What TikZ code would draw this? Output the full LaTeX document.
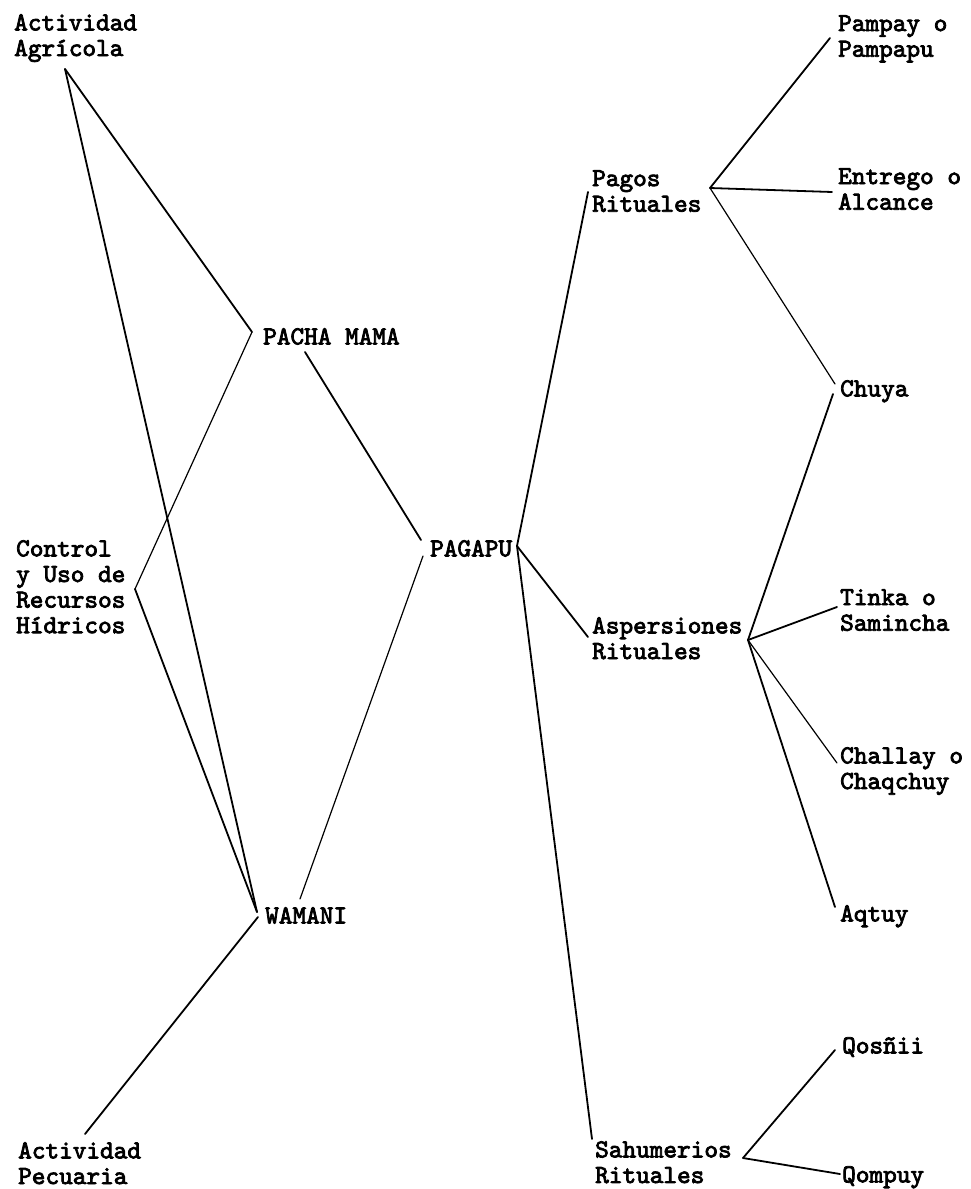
\documentclass[tikz,border=0pt]{standalone}
\usepackage{fontspec}
\usepackage{tikz}
\usetikzlibrary{positioning}
\newfontfamily\termfont{lmmono10-regular.otf}[FakeBold=3]

\begin{document}
\begin{tikzpicture}[
      x=1pt, y=-1pt,
      font=\fontsize{26}{25.6}\selectfont\termfont,
      term/.style={anchor=north west, inner sep=0pt, align=left},
      link/.style={line width=1.8pt, line cap=round},
      faint/.style={link, line width=1.2pt},
    ]
    \useasboundingbox (0,0) rectangle (970,1189);
    % left column
    \node[term] (agr) at (14,14) {Actividad\\Agrícola};
    \node[term] (ctrl) at (16,540) {Control\\y Uso de\\Recursos\\Hídricos};
    \node[term] (pec) at (18,1142) {Actividad\\Pecuaria};
    % deities and centre
    \node[term] (pm) at (263,328) {PACHA MAMA};
    \node[term] (wam) at (265,907) {WAMANI};
    \node[term] (pag) at (430,540) {PAGAPU};
    % rituals
    \node[term] (pagos) at (592,170) {Pagos\\Rituales};
    \node[term] (asp) at (592,617) {Aspersiones\\Rituales};
    \node[term] (sah) at (595,1141) {Sahumerios\\Rituales};
    % forms
    \node[term] (pam) at (838,15) {Pampay o\\Pampapu};
    \node[term] (ent) at (838,168) {Entrego o\\Alcance};
    \node[term] (chu) at (840,380) {Chuya};
    \node[term] (tin) at (840,589) {Tinka o\\Samincha};
    \node[term] (cha) at (840,747) {Challay o\\Chaqchuy};
    \node[term] (aqt) at (840,905) {Aqtuy};
    \node[term] (qos) at (842,1037) {Qosñii};
    \node[term] (qom) at (842,1166) {Qompuy};
    % fan vertices
    \coordinate (agrP) at (65,69);
    \coordinate (pmL) at (252,332);
    \coordinate (pmB) at (305,352);
    \coordinate (ctrlP) at (135,589);
    \coordinate (wamL) at (257,912);
    \coordinate (wamT) at (300,899);
    \coordinate (wamB) at (258,917);
    \coordinate (pecT) at (85,1134);
    \coordinate (pagLa) at (421,540);
    \coordinate (pagLb) at (423,556);
    \coordinate (pagR) at (517,546);
    \coordinate (pagosL) at (588,192);
    \coordinate (pagosR) at (710,188);
    \coordinate (aspL) at (588,637);
    \coordinate (aspR) at (748,640);
    \coordinate (sahL) at (592,1139);
    \coordinate (sahR) at (743,1158);
    \coordinate (pamL) at (830,38);
    \coordinate (entL) at (832,192);
    \coordinate (chuLa) at (835,384);
    \coordinate (chuLb) at (833,394);
    \coordinate (tinL) at (837,607);
    \coordinate (chaL) at (837,763);
    \coordinate (aqtL) at (835,907);
    \coordinate (qosL) at (835,1050);
    \coordinate (qomL) at (840,1174);
    % left fans
    \draw[link] (agrP) -- (pmL);
    \draw[link] (agrP) -- (wamL);
    \draw[faint] (pmL) -- (ctrlP);
    \draw[link] (ctrlP) -- (wamL);
    \draw[link] (pmB) -- (pagLa);
    \draw[faint] (pagLb) -- (wamT);
    \draw[link] (wamB) -- (pecT);
    % right fans
    \draw[link] (pagR) -- (pagosL);
    \draw[link] (pagR) -- (aspL);
    \draw[link] (pagR) -- (sahL);
    \draw[link] (pagosR) -- (pamL);
    \draw[link] (pagosR) -- (entL);
    \draw[faint] (pagosR) -- (chuLa);
    \draw[link] (chuLb) -- (aspR);
    \draw[link] (aspR) -- (tinL);
    \draw[faint] (aspR) -- (chaL);
    \draw[link] (aspR) -- (aqtL);
    \draw[link] (sahR) -- (qosL);
    \draw[link] (sahR) -- (qomL);
  \end{tikzpicture}
\end{document}
